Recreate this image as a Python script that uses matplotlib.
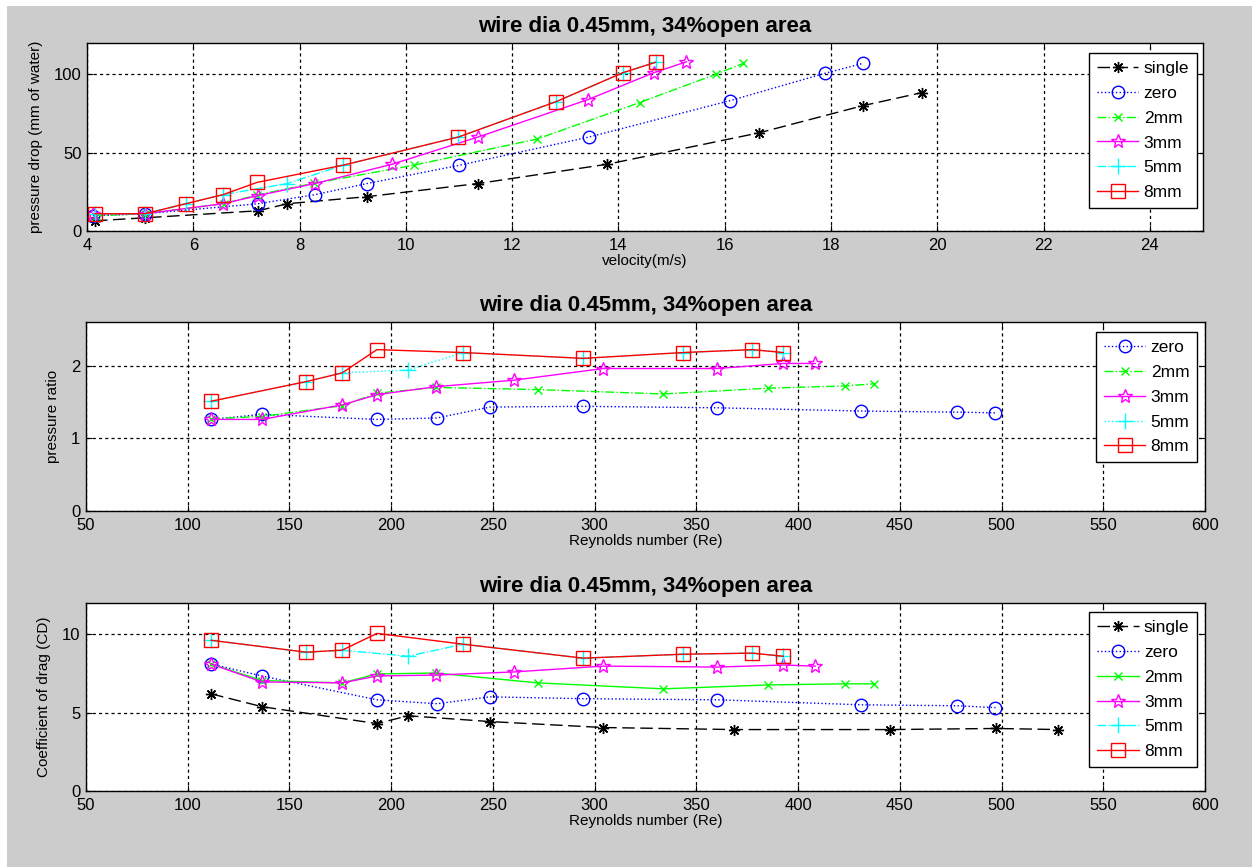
import matplotlib
matplotlib.use('Agg')
import matplotlib.pyplot as plt
from matplotlib.patches import Rectangle

plt.rcParams['font.family'] = ['Liberation Sans', 'DejaVu Sans']

TITLE = 'wire dia 0.45mm, 34%open area'

# ---- pressure drop vs velocity (top panel)
single_v = [4.15, 5.09, 7.22, 7.77, 9.27, 11.36, 13.79, 16.64, 18.6, 19.72]
single_dp = [6.5, 8.4, 12.9, 17.4, 21.9, 30.3, 42.6, 62.6, 80, 88.4]
zero_v = [4.11, 5.09, 7.22, 8.29, 9.27, 11.0, 13.45, 16.1, 17.88, 18.6]
zero_dp = [9.7, 11, 17.4, 23.2, 30.3, 41.9, 60, 83.2, 100.6, 107]
mm2_v = [4.16, 5.09, 6.57, 7.2, 8.28, 10.15, 12.47, 14.4, 15.83, 16.35]
mm2_dp = [9.7, 11, 17.4, 23, 30.5, 42, 58.7, 82, 100, 107]
mm3_v = [4.11, 5.09, 6.56, 7.22, 8.29, 9.74, 11.36, 13.43, 14.66, 15.28]
mm3_dp = [11, 11, 17.4, 22.6, 30.3, 42.6, 60, 83.9, 101, 108]
mm5_v = [4.15, 5.09, 5.86, 6.56, 7.77, 8.82, 10.99, 12.83, 14.08, 14.7]
mm5_dp = [11, 11, 17.4, 23.2, 30.3, 42, 60, 82.6, 101, 107.7]
mm8_v = [4.15, 5.09, 5.86, 6.56, 7.2, 8.82, 10.99, 12.83, 14.08, 14.7]
mm8_dp = [11, 11, 17.4, 23.2, 31, 42, 60, 82.6, 101, 107.7]

# ---- Reynolds numbers (middle and bottom panels)
single_re = [111.5, 136.5, 193, 208.3, 248.6, 304.2, 368.6, 445.3, 497.4, 527.9]
zero_re = [111.5, 136.5, 193, 222.6, 248.6, 294.3, 360.2, 431, 478, 497]
mm2_re = [111.5, 136.5, 175.9, 193, 222, 272, 333.7, 385.3, 423, 437.4]
mm3_re = [111.5, 136.5, 175.9, 193, 222, 260.4, 304.2, 360.2, 392.7, 408.4]
mm5_re = [111.5, 158.2, 175.9, 208.3, 235.3, 294.3, 343.5, 377.4, 392.7]
mm8_re = [111.5, 158.2, 175.9, 193, 235.3, 294.3, 343.5, 377.4, 392.7]

# pressure ratio
zero_pr = [1.26, 1.33, 1.26, 1.28, 1.43, 1.44, 1.42, 1.375, 1.36, 1.35]
mm2_pr = [1.27, 1.3, 1.45, 1.62, 1.7, 1.67, 1.61, 1.69, 1.72, 1.75]
mm3_pr = [1.26, 1.26, 1.46, 1.6, 1.71, 1.8, 1.96, 1.96, 2.03, 2.03]
mm5_pr = [1.51, 1.78, 1.9, 1.94, 2.18, 2.1, 2.18, 2.22, 2.18]
mm8_pr = [1.51, 1.78, 1.9, 2.22, 2.18, 2.1, 2.18, 2.22, 2.18]

# coefficient of drag
single_cd = [6.2, 5.38, 4.3, 4.8, 4.43, 4.05, 3.92, 3.92, 3.99, 3.92]
zero_cd = [8.1, 7.34, 5.82, 5.57, 6.01, 5.89, 5.82, 5.5, 5.44, 5.32]
mm2_cd = [8.1, 7.05, 6.9, 7.47, 7.53, 6.9, 6.52, 6.77, 6.84, 6.84]
mm3_cd = [8.1, 6.96, 6.9, 7.34, 7.4, 7.6, 7.97, 7.91, 8.04, 7.97]
mm5_cd = [9.62, 8.86, 8.99, 8.6, 9.37, 8.48, 8.73, 8.8, 8.6]
mm8_cd = [9.62, 8.86, 8.99, 10.06, 9.37, 8.48, 8.73, 8.8, 8.6]

# matlab colours
STY = {
    'single': dict(color='k', marker=(8, 2, 0), ms=8),
    'zero': dict(color=(0, 0, 1), marker='o', ms=9, mfc='none'),
    '2mm': dict(color=(0, 1, 0), marker='x', ms=6),
    '3mm': dict(color=(1, 0, 1), marker='*', ms=10, mfc='none'),
    '5mm': dict(color=(0, 1, 1), marker='+', ms=11),
    '8mm': dict(color=(1, 0, 0), marker='s', ms=10, mfc='none'),
}


def draw(ax, name, x, y, ls):
    st = STY[name]
    ax.plot(x, y, linestyle=ls, lw=1.0, label=name, color=st['color'],
            marker=st['marker'], markersize=st['ms'],
            markerfacecolor=st.get('mfc', st['color']), markeredgewidth=1.0)


def style(ax, xlabel, ylabel, xlim, xticks, ylim, yticks, anchor):
    ax.set_xlim(*xlim)
    ax.set_ylim(*ylim)
    ax.set_xticks(xticks)
    ax.set_yticks(yticks)
    ax.grid(True, color='k', linestyle=(0, (2.5, 2.5)), linewidth=0.9)
    ax.tick_params(direction='in', length=4, top=True, right=True, labelsize=12)
    ax.tick_params(axis='x', pad=5)
    ax.tick_params(axis='y', pad=4)
    for s in ax.spines.values():
        s.set_linewidth(1.0)
    ax.set_title(TITLE, fontsize=16, fontweight='bold', pad=8)
    ax.set_xlabel(xlabel, fontsize=11, labelpad=1)
    ax.set_ylabel(ylabel, fontsize=11, labelpad=8)
    leg = ax.legend(loc='upper right', bbox_to_anchor=anchor, borderaxespad=0,
                    fancybox=False, framealpha=1, edgecolor='k', fontsize=12.5,
                    handlelength=2.4, labelspacing=0.56, borderpad=0.45,
                    handletextpad=0.3)
    leg.get_frame().set_linewidth(1.0)


fig = plt.figure(figsize=(12.52, 8.67), dpi=100, facecolor='white')
fig.patches.append(Rectangle((7 / 1252, 0), 1, 1 - 6 / 867, transform=fig.transFigure,
                             facecolor='#cccccc', edgecolor='none', zorder=-10))

ax1 = fig.add_axes([0.0695, 0.7336, 0.8914, 0.2168])
draw(ax1, 'single', single_v, single_dp, (0, (9, 4)))
draw(ax1, 'zero', zero_v, zero_dp, ':')
draw(ax1, '2mm', mm2_v, mm2_dp, '-.')
draw(ax1, '3mm', mm3_v, mm3_dp, '-')
draw(ax1, '5mm', mm5_v, mm5_dp, '-.')
draw(ax1, '8mm', mm8_v, mm8_dp, '-')
style(ax1, 'velocity(m/s)', 'pressure drop (mm of water)', (4, 25),
      range(4, 25, 2), (0, 120), [0, 50, 100], (0.9946, 0.947))

ax2 = fig.add_axes([0.0687, 0.4106, 0.8938, 0.218])
draw(ax2, 'zero', zero_re, zero_pr, ':')
draw(ax2, '2mm', mm2_re, mm2_pr, '-.')
draw(ax2, '3mm', mm3_re, mm3_pr, '-')
draw(ax2, '5mm', mm5_re, mm5_pr, ':')
draw(ax2, '8mm', mm8_re, mm8_pr, '-')
style(ax2, 'Reynolds number (Re)', 'pressure ratio', (50, 600),
      range(50, 601, 50), (0, 2.6), [0, 1, 2], (0.993, 0.947))

ax3 = fig.add_axes([0.0687, 0.0877, 0.8938, 0.2168])
draw(ax3, 'single', single_re, single_cd, (0, (9, 4)))
draw(ax3, 'zero', zero_re, zero_cd, ':')
draw(ax3, '2mm', mm2_re, mm2_cd, '-')
draw(ax3, '3mm', mm3_re, mm3_cd, '-')
draw(ax3, '5mm', mm5_re, mm5_cd, '-.')
draw(ax3, '8mm', mm8_re, mm8_cd, '-')
style(ax3, 'Reynolds number (Re)', 'Coefficient of drag (CD)', (50, 600),
      range(50, 601, 50), (0, 12), [0, 5, 10], (0.993, 0.952))

fig.savefig('out.png', dpi=100, facecolor=fig.get_facecolor())
